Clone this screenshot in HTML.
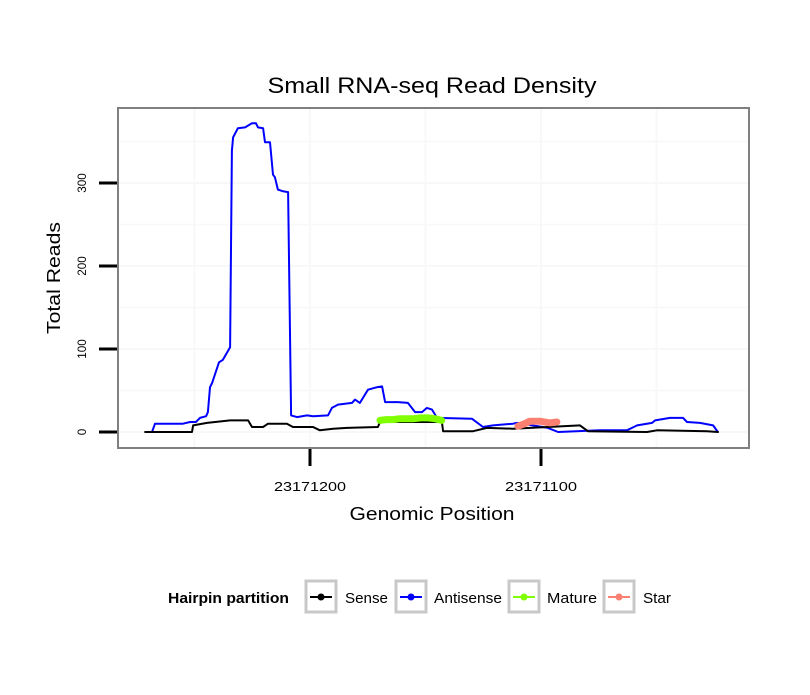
<!DOCTYPE html>
<html><head><meta charset="utf-8"><style>
body{margin:0;background:#fff;font-family:"Liberation Sans",sans-serif}
svg text{font-family:"Liberation Sans",sans-serif}
</style></head><body>
<svg id="chart" width="810" height="690" xmlns="http://www.w3.org/2000/svg">
<rect width="810" height="690" fill="#fff"/>
<text x="432" y="93" font-size="22" text-anchor="middle" textLength="329" lengthAdjust="spacingAndGlyphs">Small RNA-seq Read Density</text>
<g id="grid"></g>
<g id="series"></g>
<rect x="118" y="108" width="631" height="340" fill="none" stroke="#808080" stroke-width="2"/>
<g id="axes"></g>
<text x="432" y="520" font-size="18" text-anchor="middle" textLength="165" lengthAdjust="spacingAndGlyphs">Genomic Position</text>
<text transform="translate(60,278) rotate(-90)" font-size="18" text-anchor="middle" textLength="112" lengthAdjust="spacingAndGlyphs">Total Reads</text>
<g>
<text x="168" y="603" font-size="15" font-weight="bold" textLength="121" lengthAdjust="spacingAndGlyphs">Hairpin partition</text>
<g>
<rect x="306" y="581" width="30" height="31" fill="#fff" stroke="#c8c8c8" stroke-width="3"/>
<line x1="310" y1="597" x2="332" y2="597" stroke="#000" stroke-width="2"/><circle cx="321" cy="597" r="3.5" fill="#000"/>
<text x="345" y="603" font-size="15" textLength="43" lengthAdjust="spacingAndGlyphs">Sense</text></g>
<g>
<rect x="396" y="581" width="30" height="31" fill="#fff" stroke="#c8c8c8" stroke-width="3"/>
<line x1="400" y1="597" x2="422" y2="597" stroke="#0000ff" stroke-width="2"/><circle cx="411" cy="597" r="3.5" fill="#0000ff"/>
<text x="434" y="603" font-size="15" textLength="68" lengthAdjust="spacingAndGlyphs">Antisense</text></g>
<g>
<rect x="509" y="581" width="30" height="31" fill="#fff" stroke="#c8c8c8" stroke-width="3"/>
<line x1="513" y1="597" x2="535" y2="597" stroke="#7fff00" stroke-width="2"/><circle cx="524" cy="597" r="3.5" fill="#7fff00"/>
<text x="547" y="603" font-size="15" textLength="50" lengthAdjust="spacingAndGlyphs">Mature</text></g>
<g>
<rect x="604" y="581" width="30" height="31" fill="#fff" stroke="#c8c8c8" stroke-width="3"/>
<line x1="608" y1="597" x2="630" y2="597" stroke="#fa8072" stroke-width="2"/><circle cx="619" cy="597" r="3.5" fill="#fa8072"/>
<text x="643" y="603" font-size="15" textLength="28" lengthAdjust="spacingAndGlyphs">Star</text></g>
</g>
</svg>
<script>
const BASE = 23171000;
const senseOffsets = [271.4,251.1,250.6,244.6,234.6,226.8,225.1,220.3,218.2,210.0,207.4,198.7,195.7,190.0,184.0,170.6,169.7,142.9,142.4,129.4,123.4,112.1,83.1,79.7,54.1,49.8,28.1,23.4];
const senseValues = [0,0,8,11,14,14,6,6,10,10,6,6,2,4,5,6,12,12,1,1,5,4,8,1,0,2,1,0];
const antisenseOffsets = [268.4,267.1,255.0,251.9,249.4,247.6,245.0,244.2,243.3,242.4,239.4,237.7,234.6,233.8,233.3,231.2,228.1,225.1,223.4,222.5,220.3,219.5,217.3,216.0,215.2,213.9,211.7,209.5,208.2,205.6,201.3,198.7,192.2,190.5,187.9,181.8,180.5,178.4,174.9,171.0,168.8,167.5,161.9,157.6,154.5,151.5,149.4,147.2,145.0,129.9,125.1,120.8,112.1,110.4,97.0,92.6,74.5,62.8,58.4,51.9,50.6,44.2,38.5,36.8,31.2,25.5,23.4];
const antisenseValues = [0,10,10,12,12,17,19,24,54,59,84,87,102,339,355,366,367,372,372,367,366,349,349,310,307,292,290,289,20,18,20,19,20,29,33,35,39,35,51,54,55,36,36,35,24,24,29,27,17,16,6,8,10,11,5,0,2,2,8,11,14,17,17,12,11,8,0];
const matureOffsets = [169.7,167,164,161,158,155,152,149,146,143];
const matureValues = [14,15,15,16,16,16,17,17,16,14];
const starOffsets = [110.0,107.0,104.8,100.4,96.1,93.1];
const starValues = [7,10,13,13,11,12];
const yTicks = [0,100,200,300];
const xTicks = [23171200,23171100];

const NS = "http://www.w3.org/2000/svg";
function xs(pos){ return 310 - (pos - 23171200) * 2.31; }
function ys(v){ return 432 - v * 0.83; }
function mk(tag, attrs, parent){ const e=document.createElementNS(NS,tag); for(const k in attrs) e.setAttribute(k,attrs[k]); parent.appendChild(e); return e; }

const grid = document.getElementById('grid');
[0,50,100,150,200,250,300,350].forEach(v=>{
  const l = mk('line',{x1:119,x2:748,y1:ys(v),y2:ys(v),stroke:'#f8f8f8','stroke-width':v%100===0?2:1.5},grid);
  
  
});
[23171250,23171200,23171150,23171100,23171050].forEach(p=>{
  const l = mk('line',{x1:xs(p),x2:xs(p),y1:109,y2:447,stroke:'#f8f8f8','stroke-width':2},grid);
  
  
});

const series = document.getElementById('series');
function drawLine(offs, vals, color, w, name){
  const d = offs.map((o,i)=>(i?'L':'M')+xs(BASE+o).toFixed(1)+','+ys(vals[i]).toFixed(1)).join(' ');
  const p = mk('path',{d:d,fill:'none',stroke:color,'stroke-width':w,'stroke-linejoin':'round','stroke-linecap':'round'},series);
  
  
}
drawLine(antisenseOffsets, antisenseValues, '#0000ff', 2, 'antisense-line');
drawLine(senseOffsets, senseValues, '#000000', 2, 'sense-line');
drawLine(matureOffsets, matureValues, '#7fff00', 7, 'mature-line');
drawLine(starOffsets, starValues, '#fa8072', 7, 'star-line');

const axes = document.getElementById('axes');
yTicks.forEach(v=>{
  const t = mk('line',{x1:99,x2:117,y1:ys(v),y2:ys(v),stroke:'#000','stroke-width':3},axes);
  
  
  const tx = mk('text',{transform:`translate(86,${ys(v)}) rotate(-90)`,'font-size':12,'text-anchor':'middle'},axes);
  tx.textContent = v;
  tx.setAttribute('textLength', String(v).length*6.5);
  tx.setAttribute('lengthAdjust','spacingAndGlyphs');
  
  
});
xTicks.forEach(p=>{
  const t = mk('line',{x1:xs(p),x2:xs(p),y1:449,y2:466,stroke:'#000','stroke-width':3},axes);
  
  
  const tx = mk('text',{x:xs(p),y:491,'font-size':13,'text-anchor':'middle',textLength:72,lengthAdjust:'spacingAndGlyphs'},axes);
  tx.textContent = p;
  
  
});
</script>
</body></html>
